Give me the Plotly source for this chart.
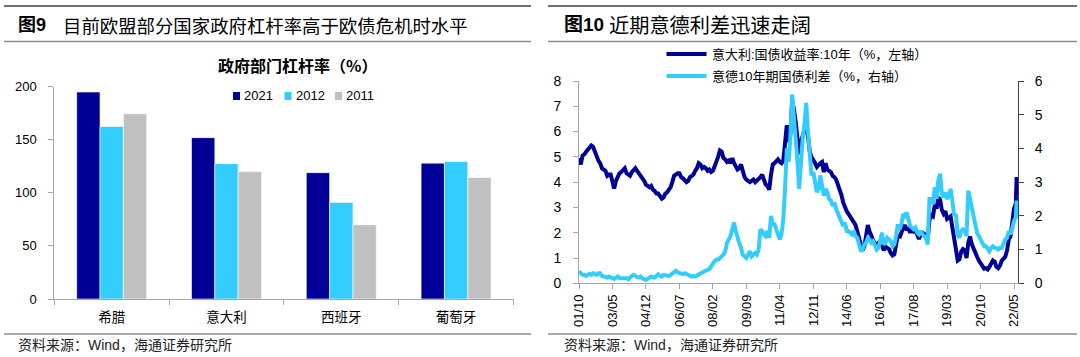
import pandas as pd
import plotly.graph_objects as go

# ---------------- data: left chart ----------------
countries = ["希腊", "意大利", "西班牙", "葡萄牙"]
lev_2021 = [195, 152, 119, 128]
lev_2012 = [162.5, 127.5, 91, 129.5]
lev_2011 = [174.5, 120, 70, 114.5]
bar_years = ["2021", "2012", "2011"]

# ---------------- data: right chart (monthly, 2001-10 .. 2022-06) ----------------
series_start = "2001-10-01"
ita_10y = [
    4.95, 4.7, 5.05,
    5.1, 5.2, 5.3, 5.4, 5.45, 5.4, 5.2, 5.05, 4.85, 4.75, 4.55, 4.5,
    4.45, 4.25, 4.3, 4.3, 4.0, 3.75, 4.05, 4.2, 4.35, 4.4, 4.5, 4.55,
    4.35, 4.3, 4.25, 4.4, 4.5, 4.55, 4.45, 4.35, 4.3, 4.15, 4.05, 3.9,
    3.85, 3.8, 3.85, 3.7, 3.65, 3.55, 3.55, 3.45, 3.35, 3.4, 3.55, 3.6,
    3.7, 3.8, 4.0, 4.25, 4.3, 4.35, 4.35, 4.2, 4.15, 4.05, 4.0, 4.05,
    4.2, 4.25, 4.3, 4.45, 4.55, 4.75, 4.7, 4.55, 4.6, 4.55, 4.45, 4.5,
    4.4, 4.45, 4.6, 4.75, 5.0, 5.25, 5.2, 4.95, 4.9, 4.8, 4.85, 4.75,
    4.95, 4.75, 4.6, 4.5, 4.55, 4.7, 4.45, 4.2, 4.1, 4.05, 4.0, 4.05,
    4.1, 4.0, 4.05, 4.1, 4.2, 4.3, 4.1, 3.9, 3.85, 3.7, 4.3, 4.7,
    4.75, 4.85, 4.9, 4.8, 4.75, 4.85, 5.7, 6.25, 5.6, 5.9, 7.2, 6.9,
    6.4, 5.6, 5.1, 5.6, 5.8, 6.0, 6.3, 5.8, 5.2, 5.0, 4.9, 4.75,
    4.6, 4.7, 4.75, 4.8, 4.4, 4.75, 4.5, 4.45, 4.4, 4.25, 4.2, 4.1,
    3.9, 3.7, 3.5, 3.2, 3.0, 2.85, 2.75, 2.65, 2.55, 2.45, 2.3, 2.05,
    1.75, 1.6, 1.3, 1.45, 1.85, 2.3, 2.05, 1.85, 1.75, 1.55, 1.5, 1.6,
    1.6, 1.5, 1.3, 1.45, 1.4, 1.35, 1.2, 1.1, 1.15, 1.5, 1.9, 1.8,
    2.05, 2.2, 2.3, 2.1, 2.2, 2.0, 2.15, 2.05, 2.1, 1.9, 1.75, 1.95,
    2.0, 1.95, 1.8, 1.75, 2.5, 2.7, 2.65, 3.1, 2.95, 3.4, 3.3, 2.9,
    2.75, 2.85, 2.55, 2.6, 2.65, 2.2, 1.65, 1.35, 0.9, 0.95, 1.25, 1.35,
    1.3, 1.0, 1.6, 1.85, 1.55, 1.35, 1.15, 1.05, 0.9, 0.8, 0.65, 0.58,
    0.6, 0.55, 0.65, 0.75, 0.9, 0.85, 0.65, 0.6, 0.7, 0.9, 1.0, 1.05,
    1.3, 1.75, 1.85, 2.5, 2.95, 3.15,
]
ita_de_spread = [
    0.35, 0.3, 0.25,
    0.25, 0.22, 0.25, 0.28, 0.25, 0.3, 0.27, 0.25, 0.3, 0.3, 0.22, 0.2,
    0.2, 0.17, 0.2, 0.18, 0.15, 0.13, 0.17, 0.2, 0.15, 0.15, 0.17, 0.15,
    0.15, 0.12, 0.18, 0.22, 0.25, 0.2, 0.18, 0.17, 0.2, 0.15, 0.12, 0.1,
    0.13, 0.15, 0.2, 0.18, 0.17, 0.22, 0.27, 0.22, 0.2, 0.25, 0.23, 0.22,
    0.22, 0.25, 0.28, 0.33, 0.37, 0.32, 0.3, 0.28, 0.27, 0.3, 0.27, 0.25,
    0.22, 0.2, 0.22, 0.2, 0.23, 0.25, 0.28, 0.32, 0.35, 0.38, 0.4, 0.42,
    0.5, 0.6, 0.65, 0.7, 0.7, 0.75, 0.8, 0.85, 0.95, 1.2, 1.3, 1.4,
    1.6, 1.8, 1.55, 1.3, 1.2, 1.05, 0.85, 0.8, 0.75, 0.85, 0.95, 0.8,
    0.85, 0.9, 0.85, 1.0, 1.6, 1.55, 1.45, 1.4, 1.55, 1.35, 2.0, 1.75,
    1.75, 1.6, 1.5, 1.3, 1.45, 1.9, 2.8, 4.0, 3.6, 4.3, 5.6, 5.0,
    4.2, 3.6, 2.8, 3.8, 4.3, 4.7, 5.35, 4.5, 3.6, 3.2, 3.3, 3.05,
    2.7, 2.8, 3.2, 2.9, 2.6, 2.8, 2.7, 2.5, 2.45, 2.3, 2.4, 2.2,
    2.05, 1.9, 1.85, 1.7, 1.8, 1.55, 1.55, 1.5, 1.45, 1.55, 1.4, 1.35,
    1.15, 0.95, 1.0, 1.15, 1.2, 1.35, 1.3, 1.2, 1.25, 1.15, 1.0, 1.05,
    1.3, 1.5, 1.15, 1.2, 1.35, 1.3, 1.25, 1.1, 1.15, 1.4, 1.75, 1.6,
    1.75, 2.05, 2.0, 2.1, 1.85, 1.7, 1.65, 1.6, 1.65, 1.5, 1.45, 1.55,
    1.45, 1.4, 1.35, 1.15, 2.5, 2.5, 2.35, 2.85, 2.5, 3.05, 3.25, 2.65,
    2.55, 2.7, 2.5, 2.6, 2.8, 2.45, 2.0, 2.05, 1.45, 1.35, 1.55, 1.6,
    1.55, 1.4, 2.75, 2.5, 2.2, 1.9, 1.75, 1.5, 1.4, 1.35, 1.2, 1.1,
    1.1, 1.0, 0.95, 1.05, 1.1, 1.05, 1.05, 1.0, 1.05, 1.05, 1.2, 1.3,
    1.35, 1.55, 1.45, 1.7, 1.85, 1.95,
]
tail_dates = ["2022-06-15", "2022-07-05"]
ita_tail = [4.2, 3.45]
spread_tail = [2.45, 1.95]

dates = list(pd.date_range(series_start, periods=len(ita_10y), freq="MS").strftime("%Y-%m-%d")) + tail_dates
ita_all = ita_10y + ita_tail
spread_all = ita_de_spread + spread_tail

# ---------------- style ----------------
W, H = 1080, 357
NAVY = "#000096"
CYAN = "#33CCFF"
GREY = "#C0C0C0"
AXIS = "#A6A6A6"
LAT = "Liberation Sans, Arial, Noto Sans CJK SC, sans-serif"
CJK = "Noto Sans CJK SC, sans-serif"


def px(x):
    return x / W


def py(y):
    return 1 - y / H


fig = go.Figure()

# left bars
for name, vals, col in zip(bar_years, [lev_2021, lev_2012, lev_2011], [NAVY, CYAN, GREY]):
    fig.add_trace(go.Bar(x=countries, y=vals, name=name, marker=dict(color=col, line=dict(color="white", width=0.6)),
                         xaxis="x", yaxis="y", showlegend=False))

# right lines
fig.add_trace(go.Scatter(x=dates, y=ita_all, mode="lines", name="意大利:国债收益率:10年（%，左轴）",
                         line=dict(color=NAVY, width=4), xaxis="x2", yaxis="y2", showlegend=False))
fig.add_trace(go.Scatter(x=dates, y=spread_all, mode="lines", name="意德10年期国债利差（%，右轴）",
                         line=dict(color=CYAN, width=4), xaxis="x2", yaxis="y3", showlegend=False))

axis_common = dict(showgrid=False, zeroline=False, showline=True, linecolor=AXIS, linewidth=1,
                   ticks="outside", ticklen=5, tickcolor=AXIS, tickwidth=1, automargin=False)

fig.update_layout(
    width=W, height=H,
    margin=dict(l=0, r=0, t=0, b=0, autoexpand=False),
    paper_bgcolor="white", plot_bgcolor="white",
    font=dict(family=LAT, size=13, color="black"),
    bargap=0.39, bargroupgap=0,
    xaxis=dict(domain=[px(54.3), px(513.5)], anchor="y", tickson="boundaries",
               tickfont=dict(family=CJK, size=13.5, color="#000"), ticklabelstandoff=6, **axis_common),
    yaxis=dict(domain=[py(299), py(86.7)], anchor="x", range=[0, 200], dtick=50,
               tickfont=dict(family=LAT, size=13, color="#000"), ticklabelstandoff=9, **axis_common),
    xaxis2=dict(domain=[px(579), px(1018)], anchor="y2", type="date",
                range=["2001-10-01", "2022-07-09"], tick0="2001-10-01", dtick="M19",
                tickformat="%y/%m", tickangle=-90,
                tickfont=dict(family=LAT, size=13, color="#000"), **axis_common),
    yaxis2=dict(domain=[py(283.3), py(81)], anchor="x2", range=[0, 8], dtick=1,
                tickfont=dict(family=LAT, size=14, color="#000"), ticklabelstandoff=9, **axis_common),
    yaxis3=dict(overlaying="y2", anchor="x2", side="right", range=[0, 6], dtick=1,
                showgrid=False, zeroline=False, showline=True, linecolor="#404040", linewidth=1,
                ticks="outside", ticklen=5, tickcolor="#404040", automargin=False,
                tickfont=dict(family=LAT, size=14, color="#000"), ticklabelstandoff=8),
)

shapes = []
for (x0, x1) in [(4, 531), (548, 1077)]:
    shapes.append(dict(type="line", xref="paper", yref="paper", x0=px(x0), x1=px(x1), y0=py(6), y1=py(6),
                       line=dict(color="#6E6E6E", width=2)))
    shapes.append(dict(type="line", xref="paper", yref="paper", x0=px(x0), x1=px(x1), y0=py(41.5), y1=py(41.5),
                       line=dict(color="#8C8C8C", width=1.5)))
    shapes.append(dict(type="line", xref="paper", yref="paper", x0=px(x0), x1=px(x1), y0=py(334), y1=py(334),
                       line=dict(color="#8C8C8C", width=1.5)))

# left legend (manual)
annotations = []
for xs, label, col in zip([233, 284.5, 335], bar_years, [NAVY, CYAN, GREY]):
    shapes.append(dict(type="rect", xref="paper", yref="paper", x0=px(xs), x1=px(xs + 7), y0=py(100), y1=py(92),
                       fillcolor=col, line=dict(width=0)))
    annotations.append(dict(xref="paper", yref="paper", x=px(xs + 9), y=py(96), text=label, showarrow=False,
                            xanchor="left", yanchor="middle", font=dict(family=LAT, size=13, color="#000")))

# right legend (manual)
for yy, label, col in zip([54, 76], ["意大利:国债收益率:10年（%，左轴）", "意德10年期国债利差（%，右轴）"], [NAVY, CYAN]):
    shapes.append(dict(type="line", xref="paper", yref="paper", x0=px(666.5), x1=px(706.5), y0=py(yy), y1=py(yy),
                       line=dict(color=col, width=4)))
    annotations.append(dict(xref="paper", yref="paper", x=px(710), y=py(yy), text=label, showarrow=False,
                            xanchor="left", yanchor="middle", font=dict(family=LAT, size=13, color="#000")))

# titles
annotations += [
    dict(xref="paper", yref="paper", x=px(16), y=py(25), text="<b>图9</b>", showarrow=False,
         xanchor="left", yanchor="middle", font=dict(family=LAT, size=18, color="#000")),
    dict(xref="paper", yref="paper", x=px(61), y=py(25), text="目前欧盟部分国家政府杠杆率高于欧债危机时水平",
         showarrow=False, xanchor="left", yanchor="middle", font=dict(family=CJK, size=18.4, color="#000")),
    dict(xref="paper", yref="paper", x=px(562), y=py(25), text="<b>图10</b>", showarrow=False,
         xanchor="left", yanchor="middle", font=dict(family=LAT, size=19, color="#000")),
    dict(xref="paper", yref="paper", x=px(607), y=py(25), text="近期意德利差迅速走阔", showarrow=False,
         xanchor="left", yanchor="middle", font=dict(family=CJK, size=20.2, color="#000")),
    dict(xref="paper", yref="paper", x=px(297), y=py(65), text="<b>政府部门杠杆率（%）</b>", showarrow=False,
         xanchor="center", yanchor="middle", font=dict(family=CJK, size=16, color="#000")),
    dict(xref="paper", yref="paper", x=px(16), y=py(345), text="资料来源：Wind，海通证券研究所", showarrow=False,
         xanchor="left", yanchor="middle", font=dict(family=LAT, size=14, color="#222")),
    dict(xref="paper", yref="paper", x=px(562), y=py(345), text="资料来源：Wind，海通证券研究所", showarrow=False,
         xanchor="left", yanchor="middle", font=dict(family=LAT, size=14, color="#222")),
]

fig.update_layout(shapes=shapes, annotations=annotations)
fig.write_html("out.html", config={"displayModeBar": False},
               post_script="document.body.style.margin='0';document.body.style.overflow='hidden';")
